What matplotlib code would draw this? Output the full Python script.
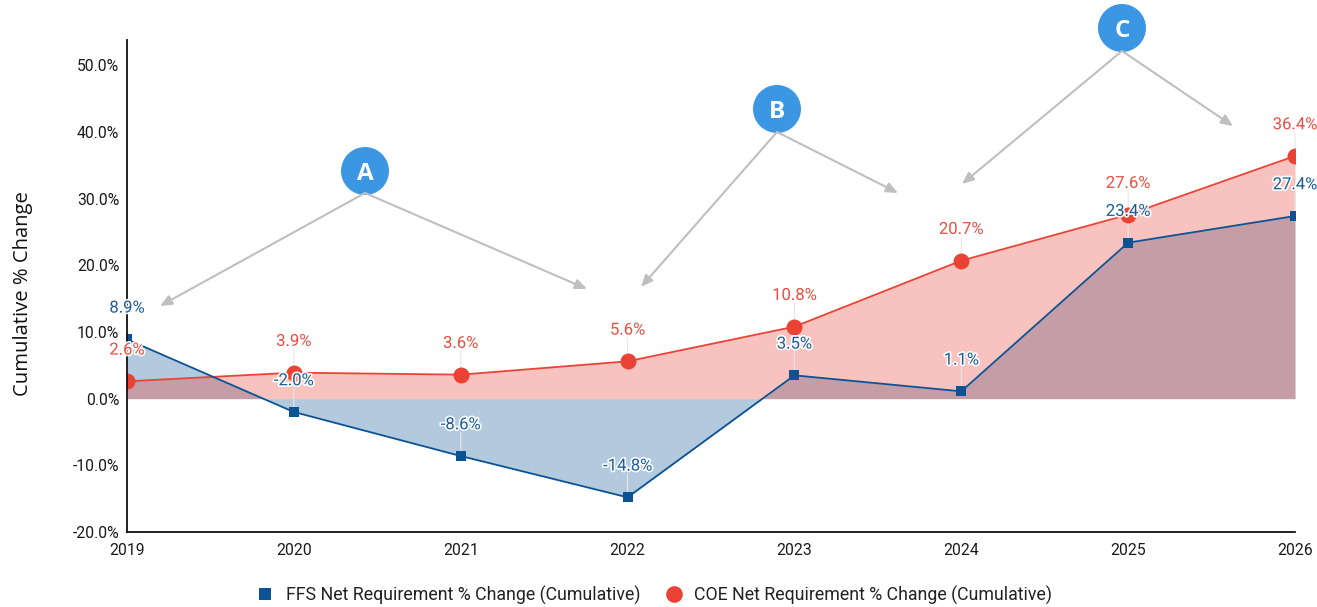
import matplotlib
matplotlib.use("Agg")
import matplotlib.pyplot as plt
import matplotlib.patheffects as pe
from matplotlib.lines import Line2D
from matplotlib.patches import Ellipse
from matplotlib.ticker import FuncFormatter

annees = [2019, 2020, 2021, 2022, 2023, 2024, 2025, 2026]
ffs = [8.9, -2.0, -8.6, -14.8, 3.5, 1.1, 23.4, 27.4]
coe = [2.6, 3.9, 3.6, 5.6, 10.8, 20.7, 27.6, 36.4]
graduations = [-20, -10, 0, 10, 20, 30, 40, 50]

BLEU = "#0b5394"
ROUGE = "#ea4335"
W, H = 1317, 607

plt.rcParams["font.family"] = "Roboto"
fig = plt.figure(figsize=(W / 100, H / 100), dpi=100)
ax = fig.add_axes([127 / W, 1 - 532 / H, (1295 - 127) / W, (532 - 40) / H])


def px(x, y):
    # pixels depuis le coin haut gauche -> fraction de la figure
    return (x / W, 1 - y / H)


# Surfaces puis courbes
ax.fill_between(annees, ffs, 0, color=BLEU, alpha=0.31, lw=0, zorder=1)
ax.fill_between(annees, coe, 0, color=ROUGE, alpha=0.32, lw=0, zorder=2)

# Traits de rappel entre chaque point et son etiquette
for serie in [coe, ffs]:
    for a, v in zip(annees, serie):
        ax.annotate("", (a, v), xytext=(0, 17), textcoords="offset points", annotation_clip=False,
                    arrowprops=dict(arrowstyle="-", color="#e6e6e6", lw=0.8, shrinkA=0, shrinkB=0),
                    zorder=3)

ax.plot(annees, coe, color=ROUGE, lw=1.3, marker="o", ms=11.5, mew=0, zorder=4)
ax.plot(annees, ffs, color=BLEU, lw=1.3, marker="s", ms=6.8, mew=0, zorder=5)

ax.set_xlim(2019, 2026)
ax.set_ylim(-20, 53.8)
ax.set_xticks(annees)
ax.set_yticks(graduations)
ax.yaxis.set_major_formatter(FuncFormatter(lambda v, p: f"{v:.1f}%"))
ax.tick_params(length=0, labelsize=11.3, colors="#1a1a1a")
ax.tick_params(axis="x", pad=8)
ax.tick_params(axis="y", pad=5.5)
ax.spines["top"].set_visible(False)
ax.spines["right"].set_visible(False)
for s in ["left", "bottom"]:
    ax.spines[s].set_linewidth(1.3)
    ax.spines[s].set_color("#111111")
    ax.spines[s].set_zorder(6)

fig.text(23 / W, 1 - 294 / H, "Cumulative % Change", rotation=90, ha="center", va="center",
         fontsize=14.6, family="Open Sans", color="#111111")

# Etiquettes de valeurs avec contour blanc
for serie, coul in [(coe, ROUGE), (ffs, BLEU)]:
    for a, v in zip(annees, serie):
        contour = [pe.withStroke(linewidth=2.5, foreground="white")]
        ax.annotate(f"{v:.1f}%", (a, v), xytext=(0, 22.5), textcoords="offset points",
                    ha="center", va="center", fontsize=12, color=coul, alpha=0.92,
                    path_effects=contour, zorder=8, annotation_clip=False)

# Fleches et pastilles A, B, C
reperes = [
    ("A", (365, 171), (365, 193), [(160, 306), (587, 289)]),
    ("B", (777, 109), (777, 132), [(641, 287), (898, 193)]),
    ("C", (1122, 28), (1122, 51), [(962, 184), (1233, 126)]),
]
for lettre, centre, sommet, cibles in reperes:
    for c in cibles:
        fig.add_artist(plt.Annotation("", xy=px(*c), xytext=px(*sommet), xycoords="figure fraction",
                                      textcoords="figure fraction",
                                      arrowprops=dict(arrowstyle="-|>,head_length=0.7,head_width=0.3",
                                                      color="#bfbfbf", lw=1.5, shrinkA=0, shrinkB=0)))
    cx, cy = px(*centre)
    fig.add_artist(Ellipse((cx, cy), 48 / W, 48 / H, transform=fig.transFigure, color="#3b97e3", lw=0))
    fig.text(cx, cy, lettre, ha="center", va="center_baseline", fontsize=17.5, fontweight="bold",
             family="Open Sans", color="white")

# Legende sans trait, marqueurs seuls
poignees = [
    Line2D([], [], ls="none", marker="s", ms=8.5, mew=0, color=BLEU),
    Line2D([], [], ls="none", marker="o", ms=12, mew=0, color=ROUGE),
]
fig.legend(poignees, ["FFS Net Requirement % Change (Cumulative)", "COE Net Requirement % Change (Cumulative)"],
           loc="center", bbox_to_anchor=px(652, 595), ncol=2, frameon=False, fontsize=12.8,
           labelcolor="#222222", handletextpad=0.4, columnspacing=1.15, handlelength=1.5)

fig.savefig("out.png", dpi=100)
